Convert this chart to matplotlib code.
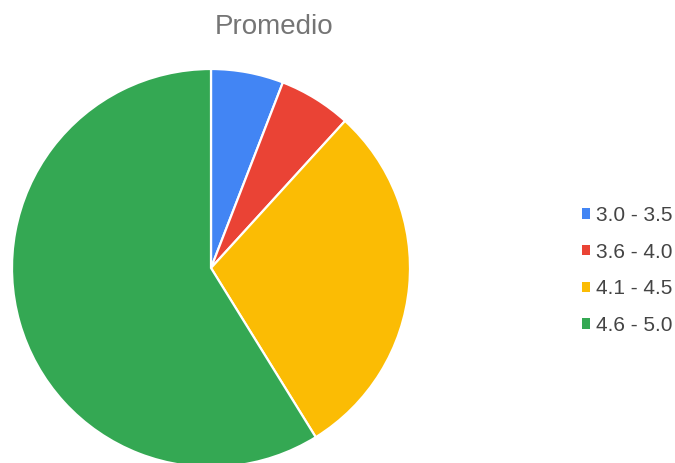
import matplotlib
matplotlib.use("Agg")
import matplotlib.pyplot as plt
from matplotlib.patches import Patch

plt.rcParams['font.family'] = ['Liberation Sans', 'DejaVu Sans']

categories = ["3.0 - 3.5", "3.6 - 4.0", "4.1 - 4.5", "4.6 - 5.0"]
values = [1, 1, 5, 10]
colors = ["#4285F4", "#EA4335", "#FBBC04", "#34A853"]

W, H = 675, 463
fig = plt.figure(figsize=(W / 100, H / 100), dpi=100)
cx, cy, r = 211, 268, 199
ax = fig.add_axes([(cx - r) / W, (H - cy - r) / H, 2 * r / W, 2 * r / H])
ax.pie(values, colors=colors, startangle=90, counterclock=False,
       wedgeprops=dict(edgecolor="white", linewidth=1.6))
ax.set_xlim(-1, 1)
ax.set_ylim(-1, 1)
ax.set_aspect("auto")
ax.axis("off")

fig.text(274 / W, 1 - 34 / H, "Promedio", ha="center", va="baseline",
         fontsize=20, color="#757575")

handles = [Patch(facecolor=c, edgecolor="none") for c in colors]
leg = fig.legend(handles, categories, loc="center left",
                 bbox_to_anchor=(563 / W, 1 - 270.5 / H), frameon=False,
                 fontsize=15, labelspacing=0.85, handlelength=0.4,
                 handleheight=0.4, handletextpad=0.3, labelcolor="#444444")

fig.savefig("out.png", dpi=100)
